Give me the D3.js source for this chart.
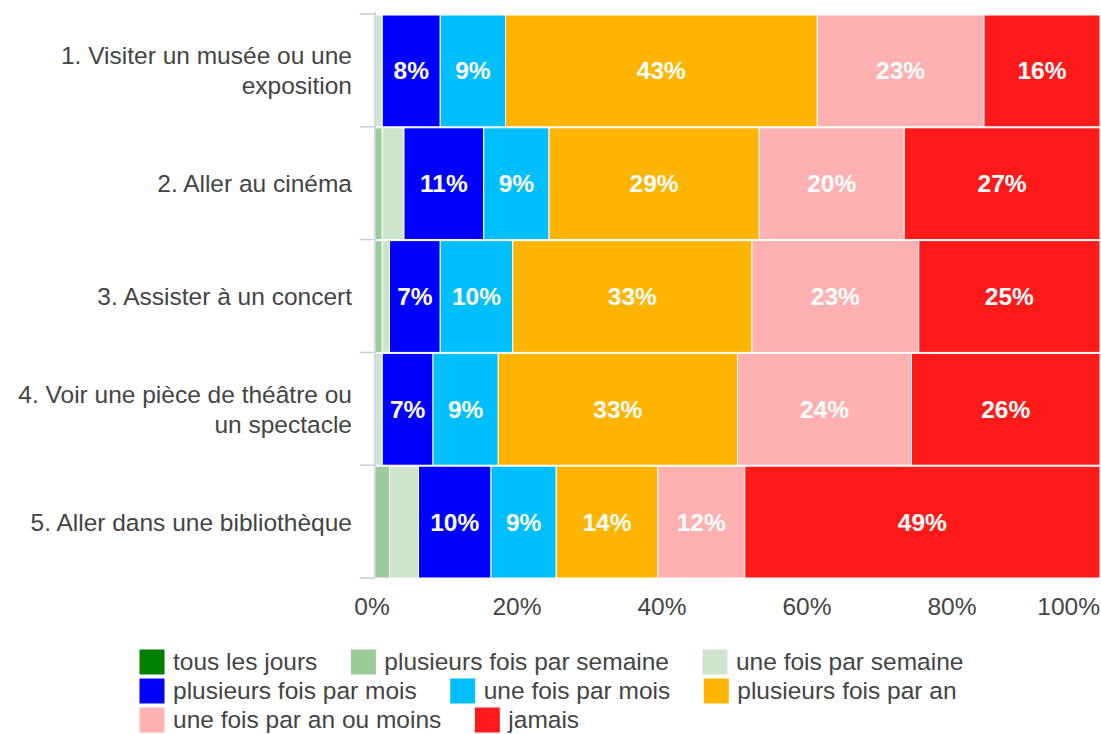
<!DOCTYPE html>
<html>
<head>
<meta charset="utf-8">
<script src="https://cdn.jsdelivr.net/npm/d3@7"></script>
<style>
  body { margin: 0; background: #fff; }
  svg { display: block; font-family: "Liberation Sans", Arial, sans-serif; }
</style>
</head>
<body>
<svg id="chart" width="1101" height="734"></svg>
<script>
// Activities (y axis) with their wrapped label lines
const activities = [
  ["1. Visiter un musée ou une", "exposition"],
  ["2. Aller au cinéma"],
  ["3. Assister à un concert"],
  ["4. Voir une pièce de théâtre ou", "un spectacle"],
  ["5. Aller dans une bibliothèque"]
];

// Frequency categories, in stacking order
const frequencies = [
  "tous les jours",
  "plusieurs fois par semaine",
  "une fois par semaine",
  "plusieurs fois par mois",
  "une fois par mois",
  "plusieurs fois par an",
  "une fois par an ou moins",
  "jamais"
];

// Share of respondents (%) per frequency, one value per activity
const tousLesJours        = [0, 0, 0, 0, 0];
const plusieursParSemaine = [0, 1, 1, 0, 2];
const uneParSemaine       = [1, 3, 1, 1, 4];
const plusieursParMois    = [8, 11, 7, 7, 10];
const uneParMois          = [9, 9, 10, 9, 9];
const plusieursParAn      = [43, 29, 33, 33, 14];
const uneParAnOuMoins     = [23, 20, 23, 24, 12];
const jamais              = [16, 27, 25, 26, 49];

const xTicks = [0, 20, 40, 60, 80, 100];

const colors = ["#008000", "#99cc99", "#cce5cc", "#0000ff", "#00bfff", "#ffb400", "#ffb0b0", "#ff1a1a"];

const series = [tousLesJours, plusieursParSemaine, uneParSemaine, plusieursParMois,
                uneParMois, plusieursParAn, uneParAnOuMoins, jamais];

const rows = activities.map((a, i) => {
  const r = { key: i };
  frequencies.forEach((f, j) => { r[f] = series[j][i]; });
  return r;
});

const FONT = 24.5;
const TEXT = "#444";

const svg = d3.select("#chart");
const margin = { left: 375, right: 1, top: 14, bottom: 156 };
const W = 1101, H = 734;

const x = d3.scaleLinear().domain([0, 100]).range([margin.left, W - margin.right]);
const y = d3.scaleBand().domain(d3.range(activities.length))
  .range([margin.top, H - margin.bottom]).paddingInner(0.0);
const color = d3.scaleOrdinal().domain(frequencies).range(colors);

const stacked = d3.stack().keys(frequencies)(rows);

// Stacked segments
const layer = svg.append("g").selectAll("g").data(stacked).join("g")
  .attr("fill", d => color(d.key));

layer.selectAll("rect").data(d => d.map(v => ({ v, key: d.key })))
  .join("rect")
  .attr("x", d => x(d.v[0]))
  .attr("y", d => y(d.v.data.key) + 1)
  .attr("width", d => Math.max(0, x(d.v[1]) - x(d.v[0])))
  .attr("height", y.bandwidth() - 1)
  .attr("stroke", "#fff")
  .attr("stroke-width", 1);

// Value labels on segments wide enough to hold them
layer.selectAll("text").data(d => d.map(v => ({ v, key: d.key })).filter(d => d.v[1] - d.v[0] >= 5))
  .join("text")
  .attr("x", d => (x(d.v[0]) + x(d.v[1])) / 2)
  .attr("y", d => y(d.v.data.key) + y.bandwidth() / 2 + 9)
  .attr("text-anchor", "middle")
  .attr("fill", "#fff")
  .attr("font-weight", "bold")
  .attr("font-size", FONT)
  .text(d => (d.v[1] - d.v[0]) + "%");

// Left axis: baseline and band boundary ticks
const axisColor = "#c3d0de";
svg.append("line")
  .attr("x1", x(0)).attr("x2", x(0))
  .attr("y1", margin.top - 2).attr("y2", H - margin.bottom)
  .attr("stroke", axisColor).attr("stroke-width", 1.5);

const bounds = d3.range(activities.length + 1).map(i =>
  i < activities.length ? y(i) : y(activities.length - 1) + y.bandwidth());
svg.append("g").selectAll("line").data(bounds).join("line")
  .attr("x1", x(0) - 15).attr("x2", x(0))
  .attr("y1", d => d).attr("y2", d => d)
  .attr("stroke", axisColor).attr("stroke-width", 1.5);

// Category labels
const lineH = 30;
const lab = svg.append("g").selectAll("text").data(activities).join("text")
  .attr("text-anchor", "end")
  .attr("fill", TEXT)
  .attr("font-size", FONT)
  .attr("x", x(0) - 23)
  .attr("y", (d, i) => y(i) + y.bandwidth() / 2 - (d.length - 1) * lineH / 2 + 9);
lab.selectAll("tspan").data(d => d).join("tspan")
  .attr("x", x(0) - 23)
  .attr("dy", (d, i) => i === 0 ? 0 : lineH)
  .text(d => d);

// Bottom axis tick labels
svg.append("g").selectAll("text").data(xTicks).join("text")
  .attr("x", d => d === 100 ? x(d) : x(d) - 3)
  .attr("y", 615)
  .attr("text-anchor", d => d === 100 ? "end" : "middle")
  .attr("fill", TEXT)
  .attr("font-size", FONT)
  .text(d => d + "%");

// Legend: three items per row, laid out left to right
const legendRows = [[0, 1, 2], [3, 4, 5], [6, 7]];
const swatch = 26, rowPitch = 29, legendTop = 649, legendLeft = 139;
const legend = svg.append("g");
legendRows.forEach((items, r) => {
  let cx = legendLeft;
  items.forEach(i => {
    const f = frequencies[i];
    const g = legend.append("g").attr("transform", `translate(${cx},${legendTop + r * rowPitch})`);
    g.append("rect")
      .attr("width", swatch).attr("height", swatch)
      .attr("fill", color(f))
      .attr("stroke", "#fff").attr("stroke-width", 1);
    const t = g.append("text")
      .attr("x", swatch + 8).attr("y", 21)
      .attr("fill", TEXT)
      .attr("font-size", FONT)
      .text(f);
    cx += swatch + 8 + t.node().getComputedTextLength() + 33;
  });
});
</script>
</body>
</html>
